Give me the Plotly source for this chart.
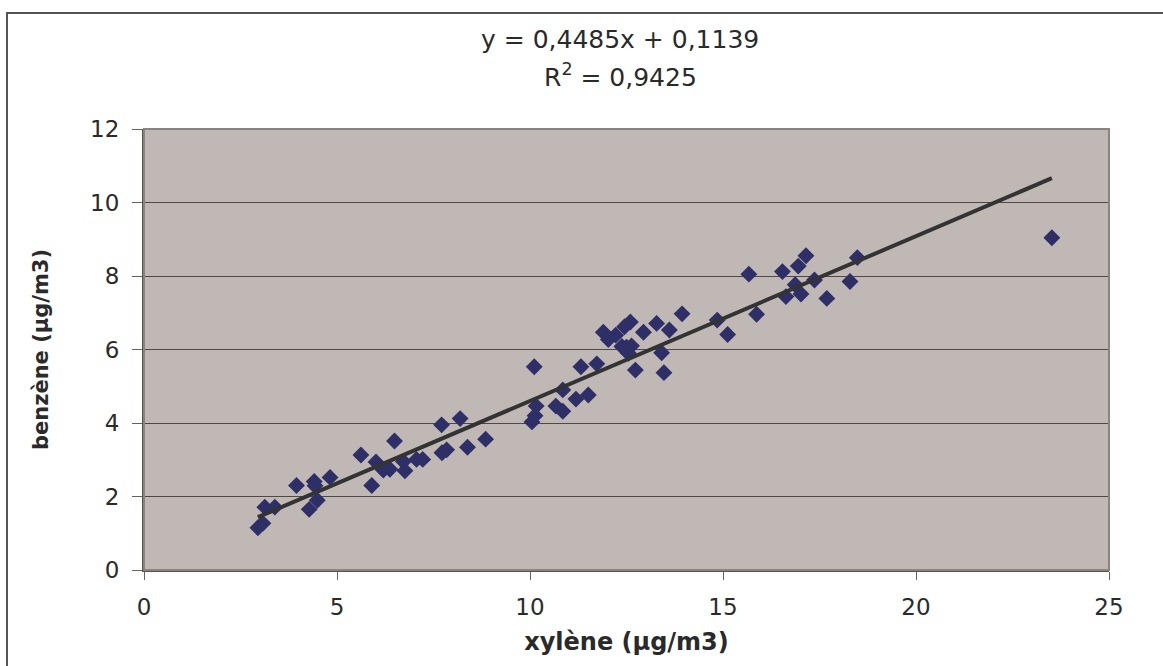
import plotly.graph_objects as go
import numpy as np

# Data
xylene = [2.95, 3.08, 3.13, 3.39, 3.95, 4.28, 4.41, 4.43, 4.49, 4.82,
          5.62, 5.90, 6.01, 6.20, 6.37, 6.49, 6.72, 6.76, 7.06, 7.22,
          7.71, 7.72, 7.84, 8.19, 8.38, 8.85, 10.11, 10.05, 10.13, 10.16,
          10.67, 10.85, 10.85, 11.19, 11.51, 11.32, 11.73, 11.90, 12.03, 12.22,
          12.45, 12.60, 12.38, 12.50, 12.63, 12.55, 12.73, 12.94, 13.28, 13.61,
          13.41, 13.47, 13.94, 14.85, 15.12, 15.67, 15.87, 16.54, 16.95, 17.15,
          16.63, 16.87, 17.02, 17.37, 17.69, 18.29, 18.48, 23.52]
benzene = [1.15, 1.27, 1.71, 1.71, 2.30, 1.65, 2.41, 2.29, 1.90, 2.52,
           3.13, 2.30, 2.94, 2.72, 2.74, 3.51, 2.95, 2.70, 3.01, 3.01,
           3.95, 3.19, 3.27, 4.12, 3.34, 3.56, 5.53, 4.03, 4.20, 4.46,
           4.46, 4.32, 4.90, 4.65, 4.76, 5.53, 5.61, 6.47, 6.27, 6.39,
           6.62, 6.75, 6.08, 6.06, 6.10, 5.90, 5.44, 6.47, 6.71, 6.53,
           5.91, 5.37, 6.97, 6.80, 6.41, 8.05, 6.96, 8.12, 8.27, 8.55,
           7.44, 7.76, 7.51, 7.89, 7.39, 7.85, 8.50, 9.04]

slope = 0.4485
intercept = 0.1139
eq_text = "y = 0,4485x + 0,1139"
r2_text = "R<sup>2</sup> = 0,9425"
x_ticks = [0, 5, 10, 15, 20, 25]
y_ticks = [0, 2, 4, 6, 8, 10, 12]

x_line = np.array([min(xylene), max(xylene)])
y_line = slope * x_line + intercept

fig = go.Figure()
fig.add_trace(go.Scatter(
    x=xylene, y=benzene, mode="markers",
    marker=dict(symbol="diamond", size=13, color="#2f2f68",
                line=dict(width=0)),
    showlegend=False, cliponaxis=False))
fig.add_trace(go.Scatter(
    x=x_line, y=y_line, mode="lines",
    line=dict(color="#333333", width=4),
    showlegend=False))

font_family = "DejaVu Sans, Liberation Sans, Arial, sans-serif"
txt = "#2a2a2a"

fig.update_layout(
    width=1163, height=666,
    margin=dict(l=144, r=54, t=129, b=96),
    paper_bgcolor="white",
    plot_bgcolor="#c0b8b5",
    font=dict(family=font_family, color=txt, size=23),
    xaxis=dict(range=[0, 25], tickvals=x_ticks, showgrid=False, zeroline=False,
               showline=True, linecolor="#5a5050", linewidth=2,
               ticks="outside", ticklen=8, tickcolor="#6a6060", tickwidth=1,
               ticklabelstandoff=7,
               tickfont=dict(size=23, color=txt),
               title=dict(text="<b>xylène (µg/m3)</b>", standoff=15,
                          font=dict(size=24, color=txt))),
    yaxis=dict(range=[0, 12], tickvals=y_ticks, showgrid=True,
               gridcolor="#4f4848", gridwidth=1, zeroline=False,
               showline=True, linecolor="#5a5050", linewidth=2,
               ticks="outside", ticklen=10, tickcolor="#6a6060", tickwidth=1,
               ticklabelstandoff=8,
               tickfont=dict(size=23, color=txt),
               title=dict(text="<b>benzène (µg/m3)</b>", standoff=36,
                          font=dict(size=21, color=txt))),
    shapes=[
        dict(type="rect", xref="paper", yref="paper", x0=0, x1=1, y0=0, y1=1,
             line=dict(color="#8c8282", width=2), fillcolor="rgba(0,0,0,0)",
             layer="above"),
        dict(type="rect", xref="paper", yref="paper",
             x0=(7 - 144) / 965, x1=1.3, y0=-0.5, y1=(570 - 13) / 441,
             line=dict(color="#555555", width=2), fillcolor="rgba(0,0,0,0)"),
    ],
    annotations=[
        dict(text=eq_text, xref="paper", yref="paper",
             x=(620 - 144) / 965, y=(570 - 40) / 441, showarrow=False,
             xanchor="center", yanchor="middle",
             font=dict(size=25, color=txt)),
        dict(text=r2_text, xref="paper", yref="paper",
             x=(620 - 144) / 965, y=(570 - 75) / 441, showarrow=False,
             xanchor="center", yanchor="middle",
             font=dict(size=25, color=txt)),
    ],
)

fig.write_html("out.html")
